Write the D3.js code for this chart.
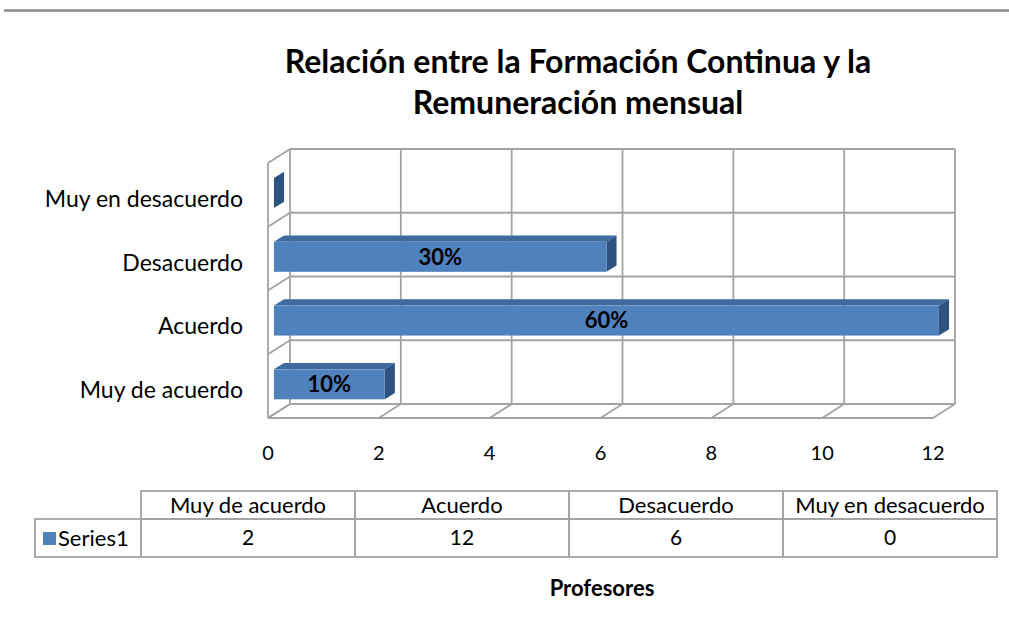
<!DOCTYPE html>
<html>
<head>
<meta charset="utf-8">
<script src="https://cdn.jsdelivr.net/npm/d3@7"></script>
<style>
  body { margin: 0; background: #fff; }
  text { font-family: Lato, "Open Sans", sans-serif; fill: #000; }
</style>
</head>
<body>
<div id="chart"></div>
<script>
// chart data (bottom to top order as in the table)
var categories = ["Muy de acuerdo", "Acuerdo", "Desacuerdo", "Muy en desacuerdo"];
var values = [2, 12, 6, 0];
var pctLabels = ["10%", "60%", "30%", ""];
var xTicks = [0, 2, 4, 6, 8, 10, 12];
var seriesName = "Series1";
var titleLines = ["Relación entre la Formación Continua y la", "Remuneración mensual"];
var axisTitle = "Profesores";

var W = 1009, H = 627;
var grid = "#a3a3a3";

var svg = d3.select("#chart").append("svg")
  .attr("width", W)
  .attr("height", H);

// page rule at the top
svg.append("line")
  .attr("x1", 4).attr("x2", W).attr("y1", 10.5).attr("y2", 10.5)
  .attr("stroke", "#8c8c8c").attr("stroke-width", 2.5);

// title
svg.selectAll(".title").data(titleLines).enter().append("text")
  .attr("class", "title")
  .attr("x", 578)
  .attr("y", function(d, i) { return 73 + i * 41; })
  .style("text-anchor", "middle")
  .style("font-weight", "bold")
  .style("font-size", "32px")
  .text(function(d) { return d; });

// front plane scales; depth moves things right/up
var x = d3.scaleLinear().domain([0, 12]).range([268, 933]);
var y = d3.scaleBand().domain(categories.slice().reverse()).range([163, 418]);
var depthX = 22, depthY = -14;
function px(v, z) { return x(v) + z * depthX; }
function py(yy, z) { return yy + z * depthY; }

var walls = svg.append("g")
  .attr("fill", "none")
  .attr("stroke", grid)
  .attr("stroke-width", 1.8);

var yEdges = y.domain().map(function(c) { return y(c); }).concat([y.range()[1]]);

// back wall horizontals + left wall diagonals
yEdges.forEach(function(yy) {
  walls.append("line")
    .attr("x1", px(0, 1)).attr("x2", px(12, 1))
    .attr("y1", py(yy, 1)).attr("y2", py(yy, 1));
  walls.append("line")
    .attr("x1", px(0, 0)).attr("x2", px(0, 1))
    .attr("y1", py(yy, 0)).attr("y2", py(yy, 1));
});
// left wall front edge
walls.append("line")
  .attr("x1", px(0, 0)).attr("x2", px(0, 0))
  .attr("y1", y.range()[0]).attr("y2", y.range()[1]);

// back wall verticals + floor diagonals
xTicks.forEach(function(t) {
  walls.append("line")
    .attr("x1", px(t, 1)).attr("x2", px(t, 1))
    .attr("y1", py(y.range()[0], 1)).attr("y2", py(y.range()[1], 1));
  walls.append("line")
    .attr("x1", px(t, 0)).attr("x2", px(t, 1))
    .attr("y1", py(y.range()[1], 0)).attr("y2", py(y.range()[1], 1));
});
// floor front edge
walls.append("line")
  .attr("x1", px(0, 0)).attr("x2", px(12, 0))
  .attr("y1", y.range()[1]).attr("y2", y.range()[1]);

// bars
var z0 = 0.27, z1 = 0.73;
var barH = y.bandwidth() * 0.47;
var bars = svg.selectAll(".bar").data(values).enter().append("g").attr("class", "bar");

function poly(pts) { return "M" + pts.map(function(p) { return p.join(","); }).join("L") + "Z"; }

bars.each(function(v, i) {
  var g = d3.select(this);
  var yc = y(categories[i]) + y.bandwidth() / 2 + 2;
  var top = yc - barH / 2, bot = yc + barH / 2;
  // top face
  g.append("path").attr("fill", "#3e6b9f")
    .attr("d", poly([[px(0, z0), py(top, z0)], [px(v, z0), py(top, z0)], [px(v, z1), py(top, z1)], [px(0, z1), py(top, z1)]]));
  // side face
  g.append("path").attr("fill", "#2f5380")
    .attr("d", poly([[px(v, z0), py(top, z0)], [px(v, z1), py(top, z1)], [px(v, z1), py(bot, z1)], [px(v, z0), py(bot, z0)]]));
  // front face
  if (v > 0) {
    g.append("rect").attr("fill", "#4f81bd")
      .attr("x", px(0, z0)).attr("y", py(top, z0))
      .attr("width", px(v, z0) - px(0, z0)).attr("height", barH);
  }
  g.append("text")
    .attr("x", (px(0, z0) + px(v, z0)) / 2)
    .attr("y", py(yc, z0))
    .attr("dy", "0.35em")
    .style("text-anchor", "middle")
    .style("font-weight", "bold")
    .style("font-size", "22px")
    .text(pctLabels[i]);
});

// category labels
svg.selectAll(".cat").data(categories).enter().append("text")
  .attr("class", "cat")
  .attr("x", 243)
  .attr("y", function(d) { return y(d) + y.bandwidth() / 2 + 4; })
  .attr("dy", "0.35em")
  .style("text-anchor", "end")
  .style("font-size", "23px")
  .text(function(d) { return d; });

// value axis labels
svg.selectAll(".tick").data(xTicks).enter().append("text")
  .attr("class", "tick")
  .attr("x", function(d) { return x(d); })
  .attr("y", 453)
  .attr("dy", "0.35em")
  .style("text-anchor", "middle")
  .style("font-size", "20px")
  .text(function(d) { return d; });

// data table
var tbl = svg.append("g");
var colX = d3.scaleBand().domain(categories).range([141, 997]);
var rowTop = 491, rowMid = 519, rowBot = 557;
tbl.selectAll(".hdr").data(categories).enter().append("rect")
  .attr("x", function(d) { return colX(d); }).attr("y", rowTop)
  .attr("width", colX.bandwidth()).attr("height", rowMid - rowTop)
  .attr("fill", "none").attr("stroke", grid).attr("stroke-width", 1.8);
tbl.selectAll(".cell").data(categories).enter().append("rect")
  .attr("x", function(d) { return colX(d); }).attr("y", rowMid)
  .attr("width", colX.bandwidth()).attr("height", rowBot - rowMid)
  .attr("fill", "none").attr("stroke", grid).attr("stroke-width", 1.8);
tbl.append("rect")
  .attr("x", 35).attr("y", rowMid).attr("width", 141 - 35).attr("height", rowBot - rowMid)
  .attr("fill", "none").attr("stroke", grid).attr("stroke-width", 1.8);

tbl.selectAll(".hdrText").data(categories).enter().append("text")
  .attr("x", function(d) { return colX(d) + colX.bandwidth() / 2; })
  .attr("y", (rowTop + rowMid) / 2)
  .attr("dy", "0.35em")
  .style("text-anchor", "middle")
  .style("font-size", "22px")
  .text(function(d) { return d; });
tbl.selectAll(".valText").data(values).enter().append("text")
  .attr("x", function(d, i) { return colX(categories[i]) + colX.bandwidth() / 2; })
  .attr("y", (rowMid + rowBot) / 2)
  .attr("dy", "0.35em")
  .style("text-anchor", "middle")
  .style("font-size", "21px")
  .text(function(d) { return d; });

// legend key in the table
tbl.append("rect")
  .attr("x", 43).attr("y", 532).attr("width", 13).attr("height", 13)
  .attr("fill", "#4f81bd");
tbl.append("text")
  .attr("x", 58).attr("y", (rowMid + rowBot) / 2)
  .attr("dy", "0.35em")
  .style("font-size", "22px")
  .text(seriesName);

// axis title
svg.append("text")
  .attr("x", 602).attr("y", 588)
  .attr("dy", "0.35em")
  .style("text-anchor", "middle")
  .style("font-weight", "bold")
  .style("font-size", "22px")
  .text(axisTitle);
</script>
</body>
</html>
